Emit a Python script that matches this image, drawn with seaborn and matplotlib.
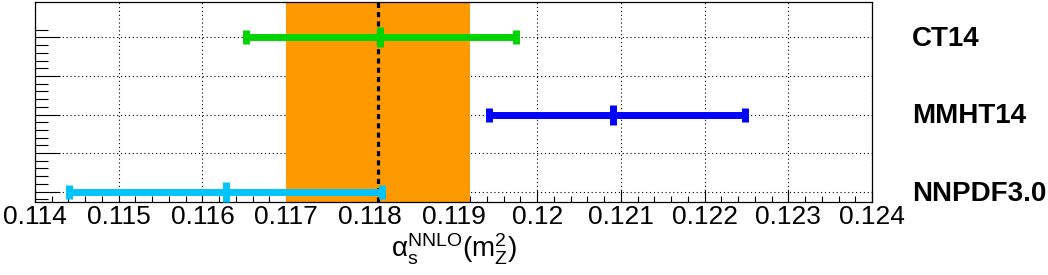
import numpy as np
import pandas as pd
import matplotlib
matplotlib.use('Agg')
import matplotlib.pyplot as plt
import matplotlib.transforms as mtransforms
from matplotlib.ticker import FixedLocator
import seaborn as sns

# alpha_s(mZ) from the PDF fits
pdf_sets = ['CT14', 'MMHT14', 'NNPDF3.0']
y_pos = [5, 3, 1]
alphas_central = [0.11812, 0.12091, 0.11628]
alphas_low = [0.11652, 0.11942, 0.11441]
alphas_high = [0.11975, 0.12248, 0.11815]
pdf_colors = ['#00d400', '#0000ff', '#00c4ff']

# world average band + central value
band_low = 0.1170
band_high = 0.1192
world_avg = 0.1181

x_ticks = [0.114, 0.115, 0.116, 0.117, 0.118, 0.119, 0.120, 0.121, 0.122, 0.123, 0.124]
x_tick_labels = ['0.114', '0.115', '0.116', '0.117', '0.118', '0.119', '0.12',
                 '0.121', '0.122', '0.123', '0.124']
y_ticks = [1, 2, 3, 4, 5]

df = pd.DataFrame({'pdf': pdf_sets, 'y': y_pos, 'central': alphas_central,
                   'low': alphas_low, 'high': alphas_high, 'color': pdf_colors})

sns.set_style('ticks')
plt.rcParams['font.family'] = ['Liberation Sans', 'DejaVu Sans']
plt.rcParams['text.color'] = 'black'
plt.rcParams['axes.labelcolor'] = 'black'
plt.rcParams['xtick.color'] = 'black'
plt.rcParams['ytick.color'] = 'black'
plt.rcParams['mathtext.fontset'] = 'custom'
plt.rcParams['mathtext.rm'] = 'Liberation Sans'
plt.rcParams['mathtext.it'] = 'Liberation Sans'
plt.rcParams['mathtext.default'] = 'rm'

fig = plt.figure(figsize=(10.48, 2.75), dpi=100)
ax = fig.add_axes([35 / 1048, 1 - 202 / 275, 837 / 1048, 200 / 275])

# dotted grid by hand so the band can cover it but not the ticks
for xt in x_ticks:
    ax.axvline(xt, color='black', lw=0.8, ls=(0, (1, 2.5)), zorder=0.5)
for yt in y_ticks:
    ax.axhline(yt, color='black', lw=0.8, ls=(0, (1, 2.5)), zorder=0.5)

ax.axvspan(band_low, band_high, color='#ff9900', lw=0, zorder=1)
ax.axvline(world_avg, color='black', lw=2.3, ls=(0, (1.6, 1.3)), zorder=2)

for _, row in df.iterrows():
    ax.errorbar(row['central'], row['y'],
                xerr=[[row['central'] - row['low']], [row['high'] - row['central']]],
                fmt='|', color=row['color'], ms=13.7, mew=5,
                elinewidth=5, capsize=4.7, capthick=2.9, zorder=3)

ax.set_xlim(0.114, 0.124)
ax.set_ylim(0.73, 5.92)

ax.xaxis.set_major_locator(FixedLocator(x_ticks))
ax.set_xticklabels(x_tick_labels)
ax.xaxis.set_minor_locator(FixedLocator(np.arange(0.114, 0.12401, 0.0002)))
ax.yaxis.set_major_locator(FixedLocator(y_ticks))
ax.yaxis.set_minor_locator(FixedLocator(np.arange(0.8, 5.21, 0.2)))

ax.tick_params(axis='x', which='major', direction='in', length=9, width=0.8,
               labelsize=19, pad=2, top=False)
ax.tick_params(axis='x', which='minor', direction='in', length=4.5, width=0.8, top=False)
ax.tick_params(axis='y', which='major', direction='in', length=18, width=0.8,
               labelleft=False, right=False)
ax.tick_params(axis='y', which='minor', direction='in', length=9, width=0.8, right=False)

for s in ax.spines.values():
    s.set_color('black')
    s.set_linewidth(0.9)

ax.set_xlabel(r'$\alpha_{s}^{NNLO}(m_{Z}^{2})$', fontsize=20, labelpad=2)

# PDF set names to the right of the frame
trans = mtransforms.blended_transform_factory(ax.transAxes, ax.transData)
for _, row in df.iterrows():
    ax.text(1.048, row['y'] - 0.05, row['pdf'], transform=trans, fontsize=20,
            fontweight='bold', va='center', ha='left')

fig.savefig('out.png', dpi=100)
